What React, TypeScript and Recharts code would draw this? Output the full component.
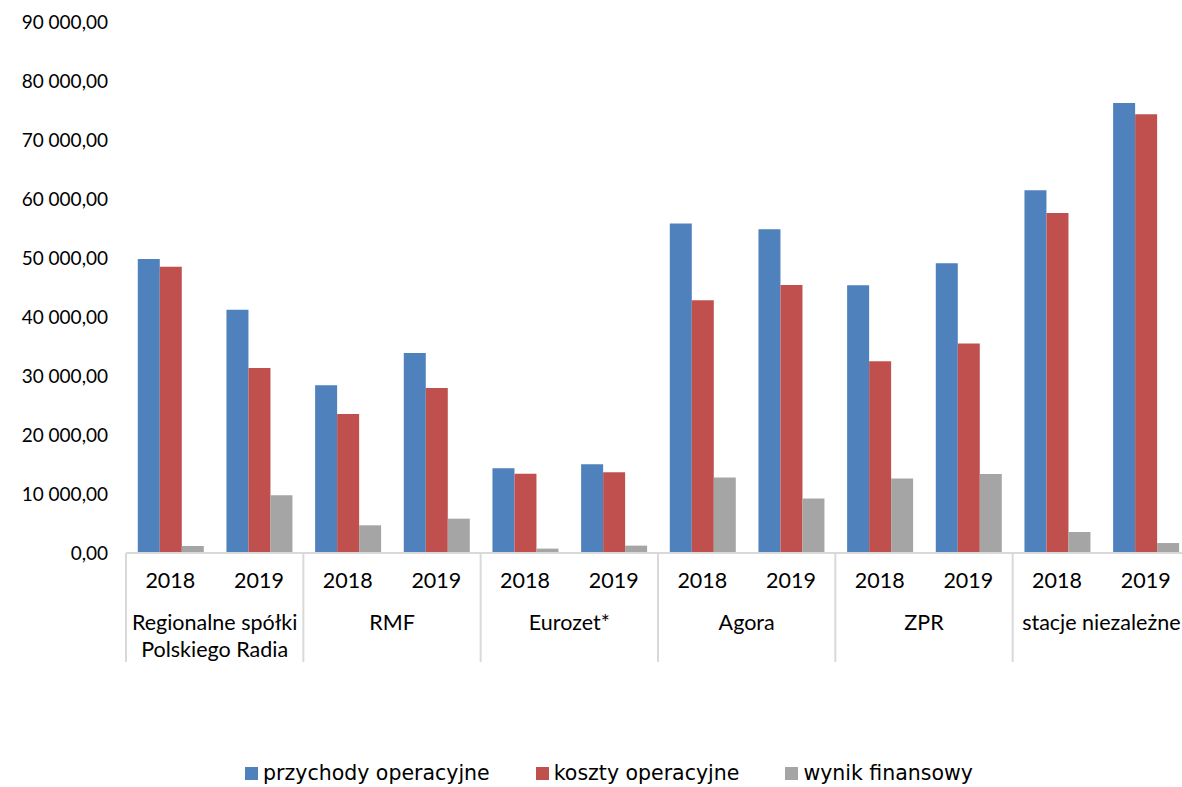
import React from 'react';
import { BarChart, Bar, XAxis, YAxis, Legend } from 'recharts';

// values
const years = ['2018', '2019', '2018', '2019', '2018', '2019', '2018', '2019', '2018', '2019', '2018', '2019'];
const groups = [
  ['Regionalne spółki', 'Polskiego Radia'],
  ['RMF'],
  ['Eurozet*'],
  ['Agora'],
  ['ZPR'],
  ['stacje niezależne'],
];
const przychody = [49830, 41240, 28420, 33900, 14360, 15030, 55830, 54860, 45370, 49100, 61470, 76270];
const koszty = [48530, 31360, 23560, 27970, 13450, 13670, 42830, 45420, 32490, 35490, 57630, 74350];
const wynik = [1190, 9780, 4690, 5820, 740, 1250, 12780, 9220, 12610, 13390, 3560, 1690];
const yTicks = [0, 10000, 20000, 30000, 40000, 50000, 60000, 70000, 80000, 90000];

const series = [
  { key: 'przychody', name: 'przychody operacyjne', color: '#4F81BD' },
  { key: 'koszty', name: 'koszty operacyjne', color: '#C0504D' },
  { key: 'wynik', name: 'wynik finansowy', color: '#A5A5A5' },
];

const W = 1182;
const H = 787;
const margin = { top: 22, right: -8, bottom: 124, left: 0 };
const yAxisWidth = 126;
const band = (W - margin.left - margin.right - yAxisWidth) / years.length;
const FONT = 'Lato, "Noto Sans", sans-serif';
const LEGEND_FONT = '"DejaVu Sans", Verdana, sans-serif';

const data = years.map((year, i) => ({
  year,
  przychody: przychody[i],
  koszty: koszty[i],
  wynik: wynik[i],
}));

// "90 000,00" style, polish formatting
const fmt = (v: number) => {
  const s = Math.round(v).toString().replace(/\B(?=(\d{3})+(?!\d))/g, ' ');
  return `${s},00`;
};

const AxisTick = (props: any) => {
  const { x, y, payload, index } = props;
  const i = payload?.index ?? index;
  const g = groups[Math.floor(i / 2)];
  return (
    <g>
      <text x={x} y={y + 35} textAnchor="middle" fontSize={21.5} fill="#000" fontFamily={FONT}>
        {payload.value}
      </text>
      {i % 2 === 0 && (
        <>
          <line x1={x - band / 2} x2={x - band / 2} y1={y} y2={y + 109} stroke="#d9d9d9" strokeWidth={2} />
          {g.map((line, k) => (
            <text key={k} x={x + band / 2} y={y + 77 + k * 27} textAnchor="middle" fontSize={21.5} fill="#000" fontFamily={FONT}>
              {line}
            </text>
          ))}
        </>
      )}
      {i === years.length - 1 && (
        <line x1={x + band / 2} x2={x + band / 2} y1={y} y2={y + 109} stroke="#d9d9d9" strokeWidth={2} />
      )}
    </g>
  );
};

const LegendContent = () => (
  <div style={{ display: 'flex', justifyContent: 'center', fontFamily: LEGEND_FONT, fontSize: 20.5, color: '#000' }}>
    {series.map(s => (
      <div key={s.key} style={{ display: 'flex', alignItems: 'center', margin: '0 23px' }}>
        <span style={{ width: 13, height: 13, background: s.color, display: 'inline-block', marginRight: 5 }} />
        <span>{s.name}</span>
      </div>
    ))}
  </div>
);

export default function App() {
  return (
    <div style={{ position: 'absolute', left: 0, top: 0, width: W, height: H, overflow: 'hidden', background: '#fff' }}>
      <BarChart width={W} height={H} data={data} margin={margin} barCategoryGap="13.3%" barGap={0}>
        <XAxis
          dataKey="year"
          interval={0}
          tickLine={false}
          tickSize={0}
          tickMargin={0}
          height={110}
          axisLine={{ stroke: '#d9d9d9', strokeWidth: 2 }}
          tick={<AxisTick />}
        />
        <YAxis
          width={yAxisWidth}
          domain={[0, 90000]}
          ticks={yTicks}
          interval={0}
          axisLine={false}
          tickLine={false}
          tickSize={0}
          tickMargin={18}
          tickFormatter={fmt}
          tick={{ fontSize: 19, fill: '#000', fontFamily: FONT }}
        />
        <Legend
          layout="horizontal"
          verticalAlign="middle"
          align="center"
          content={<LegendContent />}
          wrapperStyle={{ top: 761, left: 36, width: 1146 }}
        />
        {series.map(s => (
          <Bar key={s.key} dataKey={s.key} name={s.name} fill={s.color} isAnimationActive={false} />
        ))}
      </BarChart>
    </div>
  );
}
